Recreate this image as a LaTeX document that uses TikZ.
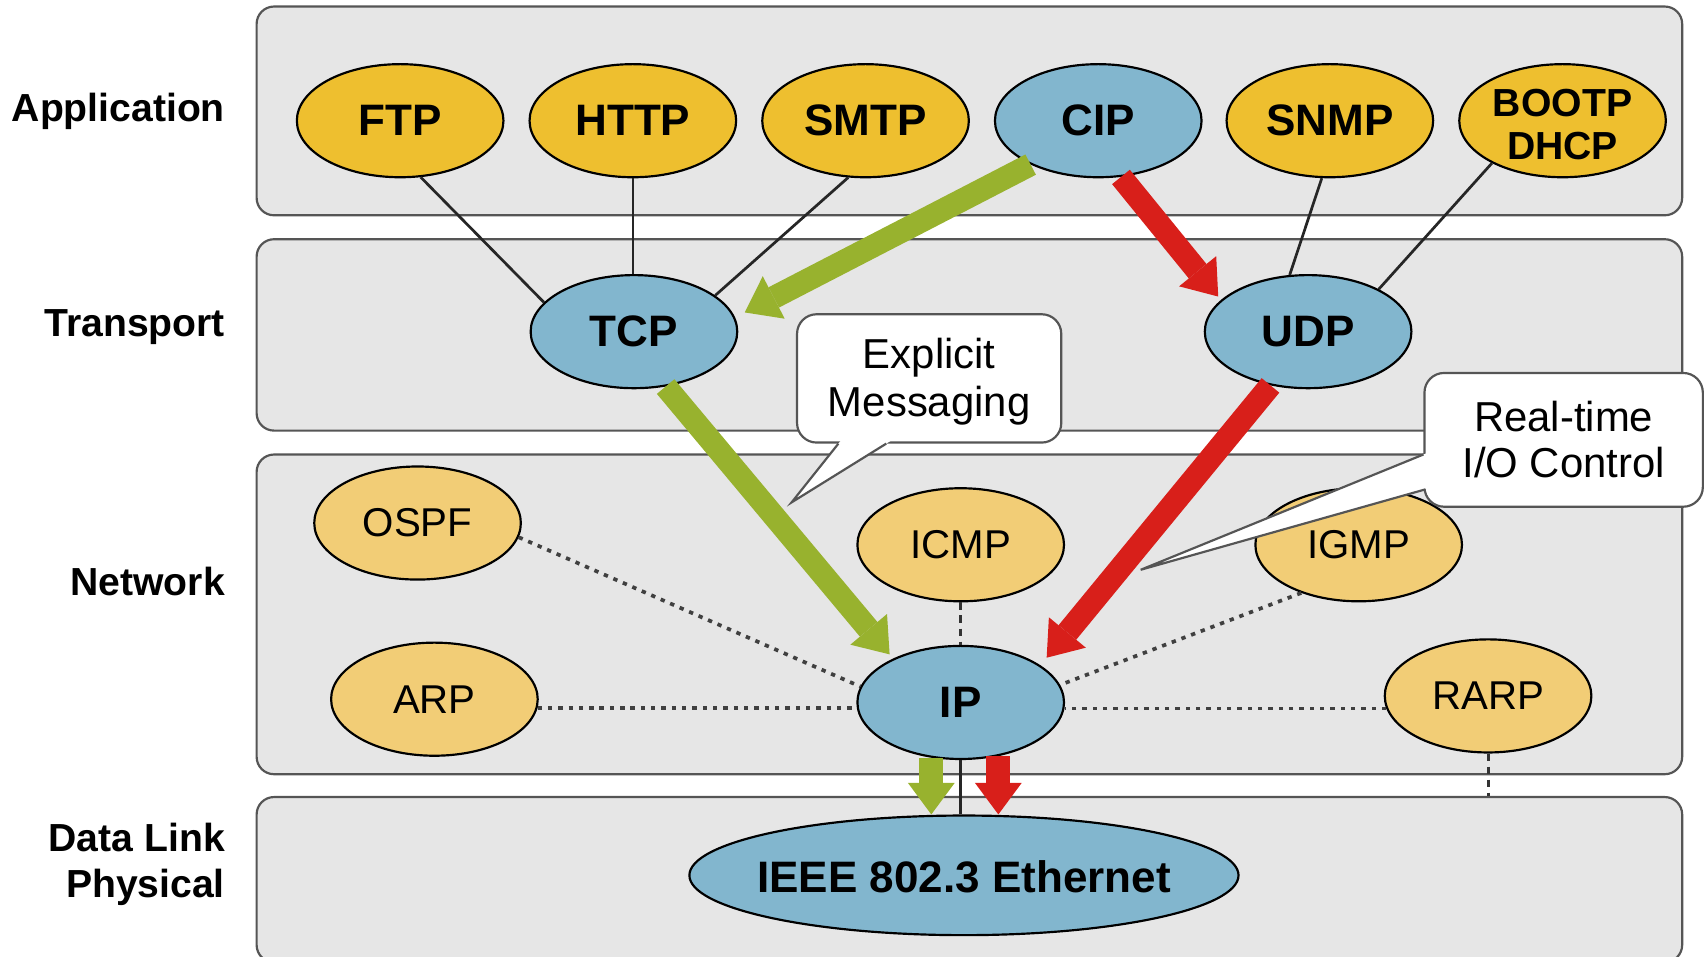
\documentclass[tikz,border=0pt]{standalone}
\usepackage{fontspec}
\setmainfont{Liberation Sans}
\usetikzlibrary{shapes.geometric,arrows.meta,calc}
\definecolor{appY}{HTML}{EEBF2F}
\definecolor{netY}{HTML}{F2CD76}
\definecolor{protoB}{HTML}{82B6CE}
\definecolor{grn}{HTML}{98B22E}
\definecolor{rd}{HTML}{D81F1A}
\definecolor{layerF}{HTML}{E6E6E6}
\definecolor{layerD}{HTML}{555555}
\begin{document}
\begin{tikzpicture}[x=1pt,y=-1pt,
  layer/.style={draw=layerD, line width=2pt, fill=layerF, rounded corners=16pt, minimum width=1311pt, inner sep=0pt},
  layerlabel/.style={anchor=base east, inner sep=0pt, font=\bfseries\fontsize{36}{42}\selectfont},
  ell/.style={ellipse, draw=black, line width=2pt, minimum width=190pt, minimum height=104pt, inner sep=0pt},
  boldtxt/.style={font=\bfseries\fontsize{40.5}{40.5}\selectfont},
  appE/.style={ell, fill=appY, boldtxt},
  blueE/.style={ell, fill=protoB, boldtxt},
  netE/.style={ell, fill=netY, font=\fontsize{37}{37}\selectfont},
  conn/.style={line width=2.5pt, black!85},
  dotl/.style={line width=3.4pt, black!75, dash pattern=on 4pt off 5.5pt},
  dashl/.style={line width=2.8pt, black!80, dash pattern=on 7pt off 5pt},
  bigarrow/.style={line width=21pt, -{Triangle[length=30pt,width=44pt,line width=0pt]}},
  smallarrow/.style={line width=22pt, -{Triangle[length=29pt,width=43pt,line width=0pt]}},
  callbox/.style={draw=layerD, line width=2pt, fill=white, rounded corners=18pt, inner sep=0pt},
  callline/.style={draw=layerD, line width=2pt, line join=miter},
  calltxt/.style={align=center, inner sep=0pt}
]
\useasboundingbox (0,0) rectangle (1568,880);

% layer boxes
\node[layer, minimum height=192pt] (app) at (891.5,102) {};
\node[layer, minimum height=176pt] (trans) at (891.5,308) {};
\node[layer, minimum height=294pt] (net) at (891.5,565) {};
\node[layer, minimum height=152pt] (dl) at (891.5,809) {};

% layer labels
\node[layerlabel] (lapp) at (207,112) {Application};
\node[layerlabel] (ltrans) at (207,309) {Transport};
\node[layerlabel] (lnet) at (207,548) {Network};
\node[layerlabel] (ldl) at (207,783) {Data Link};
\node[layerlabel] (lphy) at (207,825) {Physical};

% application
\node[appE] (FTP) at (368,111) {FTP};
\node[appE] (HTTP) at (582,111) {HTTP};
\node[appE] (SMTP) at (796,111) {SMTP};
\node[blueE] (CIP) at (1010,111) {CIP};
\node[appE] (SNMP) at (1223,111) {SNMP};
\node[appE] (BOOTP) at (1437,111) {};
\node[align=center, inner sep=0pt, font=\bfseries\fontsize{36}{39}\selectfont] (bootptxt) at (1437,114.5) {BOOTP\\DHCP};

% transport
\node[blueE] (TCP) at (583,305) {TCP};
\node[blueE] (UDP) at (1203,305) {UDP};

% network
\node[netE] (OSPF) at (384,481) {OSPF};
\node[netE] (ICMP) at (883.5,501) {ICMP};
\node[netE] (IGMP) at (1249.5,501) {IGMP};
\node[netE] (ARP) at (399.5,643) {ARP};
\node[blueE] (IP) at (883.5,646) {IP};
\node[netE] (RARP) at (1368.5,640) {RARP};

% data link
\node[ell, fill=protoB, minimum width=505pt, minimum height=110pt] (Eth) at (886.5,805) {};
\node[boldtxt, inner sep=0pt] (ethtxt) at (886.5,806) {IEEE 802.3 Ethernet};

% thin connectors
\draw[conn] (FTP.290) -- (TCP.162);
\draw[conn] (HTTP.south) -- (HTTP.south |- TCP.north);
\draw[conn] (SMTP.253) -- (TCP.24);
\draw[conn] (SNMP.262) -- (UDP.108);
\draw[conn] (BOOTP.211) -- (UDP.31);
\draw[conn] (IP.south) -- (IP.south |- Eth.north);

% dotted / dashed
\draw[dotl] (OSPF.352) -- (IP.171);
\draw[dashl] (ICMP.south) -- (IP.north);
\draw[dotl] (IGMP.220) -- (IP.10);
\draw[dotl] (ARP.355) -- (ARP.355 -| IP.west);
\draw[dotl] (RARP.187) -- (RARP.187 -| IP.east);
\draw[dashl] (RARP.south) -- (RARP.south |- dl.north);

% thick arrows
\draw[bigarrow, draw=grn, shorten >=10pt] (CIP.213) -- (TCP.8);
\draw[bigarrow, draw=grn, shorten >=5pt] (TCP.300) -- (IP.147);
\draw[bigarrow, draw=rd, shorten >=4pt] (CIP.292) -- (UDP.160);
\draw[bigarrow, draw=rd, shorten >=9pt] (UDP.235) -- (IP.25);
\draw[smallarrow, draw=grn] (IP.242) -- (IP.242 |- Eth.north);
\draw[smallarrow, draw=rd] (IP.305) -- (IP.305 |- Eth.north);

% callout: Explicit Messaging
\node[callbox, minimum width=243pt, minimum height=118pt] (em) at (854.5,348) {};
\coordinate (emtip) at (728,462);
\coordinate (emA) at ($(em.south)+(-83.5,0)$);
\coordinate (emB) at ($(em.south)+(-39.5,0)$);
\fill[white] ($(emtip)!1.08!(emA)$) -- (emtip) -- ($(emtip)!1.08!(emB)$) -- cycle;
\draw[callline] (emA) -- (emtip) -- (emB);
\node[calltxt, font=\fontsize{38.5}{44}\selectfont] (emtxt) at (854.5,351) {Explicit\\Messaging};

% callout: Real-time I/O Control
\node[callbox, minimum width=256pt, minimum height=123pt] (rt) at (1438,404.5) {};
\coordinate (rttip) at (1049,524);
\coordinate (rtA) at ($(rt.west)+(0,13.5)$);
\coordinate (rtB) at ($(rt.west)+(2,45.5)$);
\fill[white] ($(rttip)!1.025!(rtA)$) -- (rttip) -- ($(rttip)!1.025!(rtB)$) -- cycle;
\draw[callline] (rtA) -- (rttip) -- (rtB);
\node[calltxt, font=\fontsize{38.5}{42}\selectfont] (rttxt) at (1438,404) {Real-time\\I/O Control};
\end{tikzpicture}
\end{document}
